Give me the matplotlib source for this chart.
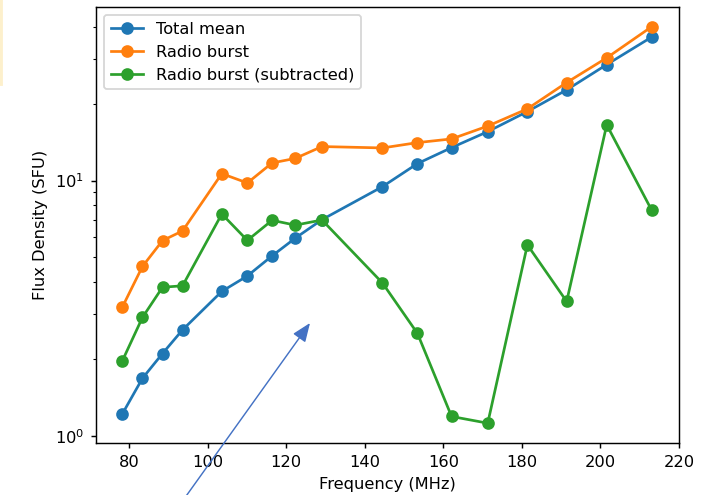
import matplotlib
matplotlib.use("Agg")
import matplotlib.pyplot as plt
from matplotlib.patches import Rectangle

freq = [78.3, 83.4, 88.5, 93.6, 103.6, 110.1, 116.4, 122.3, 129.1,
        144.5, 153.4, 162.1, 171.3, 181.4, 191.4, 201.6, 213.0]

total_mean = [1.22, 1.68, 2.10, 2.60, 3.68, 4.23, 5.07, 5.95, 7.03,
              9.47, 11.66, 13.47, 15.56, 18.65, 22.68, 28.5, 36.5]
radio_burst = [3.2, 4.61, 5.82, 6.35, 10.65, 9.79, 11.73, 12.22, 13.6,
               13.43, 14.09, 14.57, 16.36, 19.11, 24.23, 30.28, 40.07]
burst_sub = [1.97, 2.91, 3.82, 3.87, 7.40, 5.83, 6.99, 6.69, 7.01,
             3.97, 2.52, 1.19, 1.12, 5.60, 3.36, 16.54, 7.68]

plt.rcParams["font.size"] = 9
plt.rcParams["xtick.major.size"] = 3
plt.rcParams["ytick.major.size"] = 3
plt.rcParams["ytick.minor.size"] = 1.8

fig = plt.figure(figsize=(715 / 130, 495 / 130), dpi=130)
ax = fig.add_axes([96 / 715, 52 / 495, 583 / 715, 436 / 495])

ax.plot(freq, total_mean, "o-", label="Total mean")
ax.plot(freq, radio_burst, "o-", label="Radio burst")
ax.plot(freq, burst_sub, "o-", label="Radio burst (subtracted)")

ax.set_yscale("log")
ax.set_xlabel("Frequency (MHz)")
ax.set_ylabel("Flux Density (SFU)")
ax.set_xticks([80, 100, 120, 140, 160, 180, 200, 220])
ax.legend(loc="upper left")

# screenshot overlay: arrow and pale strip at the left edge
ax.annotate("", xy=(310, 172), xycoords="figure pixels",
            xytext=(184, -4), textcoords="figure pixels",
            arrowprops=dict(arrowstyle="-|>,head_length=0.55,head_width=0.22",
                            color="#4472C4", lw=0.8,
                            mutation_scale=16, shrinkA=0, shrinkB=0),
            annotation_clip=False)
fig.patches.append(Rectangle((0, 410 / 495), 2 / 715, 85 / 495,
                             transform=fig.transFigure, color="#fdf0cc"))

fig.savefig("out.png", dpi=130)
